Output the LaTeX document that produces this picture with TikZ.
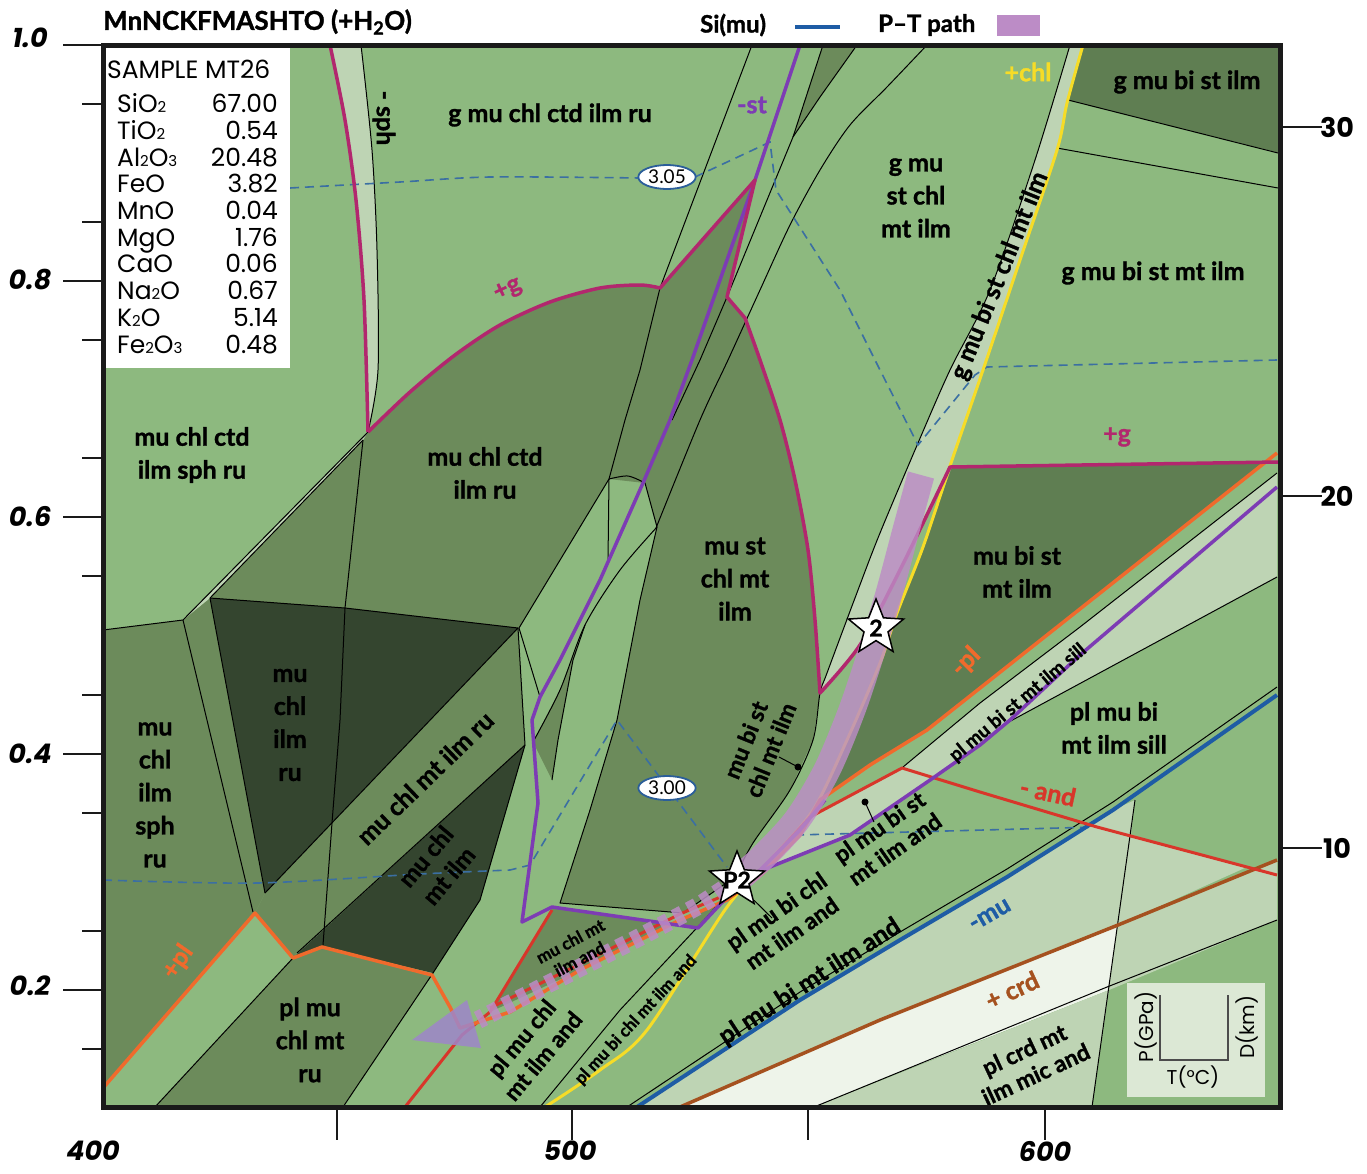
\documentclass[tikz,border=0pt]{standalone}
\usepackage{fontspec}
\setmainfont{Lato}[BoldFeatures={FakeBold=1.3}]
\newfontfamily\popf{Poppins}
\usetikzlibrary{shapes.geometric}
\definecolor{lightG}{HTML}{8DB97F}
\definecolor{midG}{HTML}{6C8B5B}
\definecolor{darkG}{HTML}{5F7E52}
\definecolor{darkestG}{HTML}{34452F}
\definecolor{paleG}{HTML}{BED4B4}
\definecolor{whiteG}{HTML}{EEF4EA}
\definecolor{magC}{HTML}{B2276E}
\definecolor{purC}{HTML}{7D3CB4}
\definecolor{oraC}{HTML}{F06A2C}
\definecolor{redC}{HTML}{D8362A}
\definecolor{yelC}{HTML}{F6DC27}
\definecolor{bluC}{HTML}{1E5CA5}
\definecolor{broC}{HTML}{A5511F}
\definecolor{dashC}{HTML}{3B6FA2}
\definecolor{isoC}{HTML}{2B5E9A}
\definecolor{ptC}{HTML}{BC8CC6}
\definecolor{arrC}{HTML}{9E86CA}
\definecolor{insetC}{HTML}{DCE8D5}
\definecolor{frameC}{HTML}{1A1A1A}
\newcommand\smd[1]{{\fontsize{15}{15}\selectfont #1}}
\tikzset{
 lab/.style={font=\fontsize{25}{33}\selectfont\bfseries, align=center, inner sep=0pt},
 rlab/.style={font=\fontsize{23}{27}\selectfont\bfseries, align=center, inner sep=0pt},
 slab/.style={font=\fontsize{17}{20}\selectfont\bfseries, align=center, inner sep=0pt},
 clab/.style={font=\fontsize{25}{25}\selectfont\bfseries, inner sep=0pt},
 bd/.style={draw=black, line width=1pt, line join=round},
 dsh/.style={draw=dashC, line width=1.6pt, dash pattern=on 9pt off 6pt},
 mag/.style={draw=magC, line width=3.5pt, line join=round},
 pur/.style={draw=purC, line width=3.5pt, line join=round},
 ora/.style={draw=oraC, line width=3.5pt, line join=round},
 rdl/.style={draw=redC, line width=3pt, line join=round},
 yel/.style={draw=yelC, line width=3pt, line join=round},
 blu/.style={draw=bluC, line width=4pt, line join=round},
 bro/.style={draw=broC, line width=3.5pt, line join=round},
 iso/.style={ellipse, draw=isoC, line width=1.8pt, fill=white, inner sep=1.5pt, font=\fontsize{19}{19}\selectfont},
 starn/.style={star, star points=5, star point ratio=2.3, draw=black, line width=1.5pt, fill=white, minimum size=58pt, inner sep=0pt},
 stt/.style={font=\fontsize{23}{23}\selectfont\bfseries, inner sep=0pt},
 axl/.style={font=\popf\fontsize{27}{27}\selectfont\bfseries\itshape, inner sep=0pt},
 axr/.style={font=\popf\fontsize{27}{27}\selectfont\bfseries, inner sep=0pt},
 tk/.style={draw=frameC, line width=2.5pt},
 sb/.style={font=\popf\fontsize{25}{25}\selectfont, inner sep=0pt},
 leg/.style={font=\fontsize{24}{24}\selectfont\bfseries, inner sep=0pt},
}
\begin{document}
\begin{tikzpicture}[x=1pt,y=-1pt]
\useasboundingbox (0,0) rectangle (1367,1173);
\fill[white] (0,0) rectangle (1367,1173);
\fill[lightG] (103,45) rectangle (1280,1107);
% ---------- regions ----------
\fill[midG] plot[smooth] coordinates {(368,432) (410,392) (455,355) (500,325) (550,302) (600,288) (640,285) (660,288)} -- (640,370) -- (625,420) -- (609,479) -- (519,628) -- (345,608) -- (210,598) -- cycle;
\fill[midG] (660,288) -- (755,180) -- (727,297) -- plot[smooth] coordinates {(745,318) (760,360) (780,420) (795,480) (808,550) (815,620) (820,693)} -- (813,740) -- (790,790) -- (753,843) -- (735,877) -- (683,913) -- (560,903) -- (590,810) -- (617,720) -- (640,600) -- (657,527) -- (645,483) -- (609,479) -- (625,420) -- (640,370) -- cycle;
\fill[midG] (585,625) -- (573,660) -- (558,740) -- (552,780) -- (533,742) -- (560,690) -- cycle;
\fill[darkestG] (210,598) -- (345,608) -- (518,628) -- (265,893) -- cycle;
\fill[midG] (518,628) -- (525,745) -- (297,953) -- (293,958) -- (255,913) -- (265,893) -- cycle;
\fill[darkestG] (525,745) -- (480,900) -- (433,973) -- (322,947) -- (295,956) -- cycle;
\fill[midG] (103,630) -- (183,620) -- (210,598) -- (265,893) -- (255,913) -- (103,1088) -- cycle;
\fill[midG] (293,958) -- (322,947) -- (432,975) -- (343,1107) -- (155,1107) -- cycle;
\fill[midG] (552,908) -- (698,928) -- (727,898) -- (680,920) -- (580,970) -- (490,1012) -- cycle;
\fill[midG] (823,45) -- (857,45) -- (820,97) -- (793,137) -- cycle;
\fill[darkG] (1083,45) -- (1280,45) -- (1280,153) -- (1068,100) -- cycle;
\fill[darkG] (952,467) -- (1264,463) -- (927,730) -- (870,765) -- (820,800) -- (847,740) -- (880,663) -- (897,613) -- (923,547) -- cycle;
\fill[paleG] plot[smooth] coordinates {(1070,45) (1035,160) (990,290) (950,370) (918,443) (880,533) (858,590) (827,673) (820,693)} -- plot[smooth] coordinates {(820,693) (860,645) (900,570) (950,467)} -- (983,370) -- (1020,260) -- (1057,150) -- (1067,103) -- (1083,45) -- cycle;
\fill[paleG] (903,767) -- (980,703) -- (1080,627) -- (1277,473) -- (1277,487) -- (1080,655) -- (1010,720) -- (980,745) -- (933,778) -- cycle;
\fill[paleG] (1005,724) -- (1080,655) -- (1277,487) -- (1277,577) -- cycle;
\fill[paleG] (770,867) -- (810,817) -- (902,768) -- (933,778) -- (850,835) -- cycle;
\fill[paleG] (637,1107) -- (800,1000) -- (900,940) -- (1007,877) -- (1113,810) -- (1135,800) -- (1131,835) -- (1247,867) -- (1118,925) -- (880,1020) -- (680,1107) -- cycle;
\fill[whiteG] (680,1107) -- (880,1020) -- (1118,925) -- (1109,990) -- (880,1080) -- (814,1107) -- cycle;
\fill[paleG] (814,1107) -- (1109,990) -- (1092,1107) -- cycle;
\fill[paleG] (1118,925) -- (1277,860) -- (1277,920) -- (1109,990) -- cycle;
\fill[paleG] plot[smooth] coordinates {(330,45) (345,120) (356,200) (364,300) (368,432)} -- plot[smooth] coordinates {(368,432) (378,370) (377,250) (372,150) (361,45)} -- cycle;
\fill[paleG] (368,432) -- (183,620) -- (210,598) -- (363,440) -- cycle;
% ---------- thin boundaries ----------
\draw[bd] (752,45) -- (660,288) -- (640,370) -- (625,420) -- (609,479) -- (519,628) -- (540,697);
\draw[bd] (857,45) -- (820,97) -- (793,137) -- (727,297) -- (700,360) -- (672,420);
\draw[bd] (823,45) -- (793,137);
\draw[bd] plot[smooth] coordinates {(927,45) (887,87) (850,125) (820,170) (790,225) (760,290) (728,360) (700,420) (656,528)};
\draw[bd] plot[smooth] coordinates {(609,479) (628,476) (645,483)};
\draw[bd] (645,483) -- (657,527) -- (640,600) -- (617,720) -- (590,810) -- (560,903) -- (683,913) -- (735,877);
\draw[bd] plot[smooth] coordinates {(657,527) (620,570) (585,625) (560,690) (533,742)};
\draw[bd] (585,625) -- (573,660) -- (558,740) -- (552,780);
\draw[bd] (609,479) -- (608,560);
\draw[bd] (363,440) -- (345,608) -- (340,720) -- (332,823) -- (323,945);
\draw[bd] (210,598) -- (345,608) -- (518,628) -- (265,893);
\draw[bd] (368,432) -- (183,620) -- (253,912);
\draw[bd] (363,440) -- (210,598) -- (265,893);
\draw[bd] (103,630) -- (183,620);
\draw[bd] (525,745) -- (297,953);
\draw[bd] (518,628) -- (525,745) -- (480,900) -- (433,973) -- (343,1107);
\draw[bd] (293,958) -- (155,1107);
\draw[bd] plot[smooth] coordinates {(361,45) (372,150) (377,250) (378,370) (368,432)};
\draw[bd] plot[smooth] coordinates {(1070,45) (1035,160) (990,290) (950,370) (918,443) (880,533) (858,590) (827,673) (820,693) (813,740) (790,790) (753,843) (735,877)};
\draw[bd] (1068,100) -- (1278,153);
\draw[bd] (1057,148) -- (1278,188);
\draw[bd] (903,767) -- (980,703) -- (1080,627) -- (1277,473);
\draw[bd] (1005,724) -- (1277,577);
\draw[bd] (540,1107) -- (620,1010) -- (707,917) -- (735,885);
\draw[bd] (627,1107) -- (800,992) -- (900,932) -- (1007,869) -- (1113,802) -- (1277,687);
\draw[bd] (1135,800) -- (1092,1107);
\draw[bd] (814,1107) -- (880,1080) -- (1107,987) -- (1277,920);
% ---------- isopleths ----------
\draw[dsh] plot[smooth] coordinates {(290,188) (400,182) (490,177) (640,178)} -- (695,177) -- (770,142) -- (776,190) -- (840,290) -- (880,370) -- (918,445) -- (975,375) -- (987,367) -- (1277,360);
\draw[dsh] plot[smooth] coordinates {(103,880) (257,883) (420,874) (510,870)} -- (530,865) -- (617,720) -- (727,867);
\draw[dsh] (795,835) -- (1097,827);
% ---------- coloured reaction lines ----------
\draw[yel] plot[smooth] coordinates {(1083,45) (1067,103) (1057,150) (1020,260) (983,370) (952,460) (923,547) (897,613) (880,663) (847,740) (813,810) (770,860) (727,907) (647,1030) (600,1070) (545,1107)};
\draw[blu] (637,1107) -- (800,1000) -- (900,940) -- (1007,877) -- (1113,810) -- (1277,695);
\draw[bro] (680,1107) -- (880,1020) -- (1118,925) -- (1277,860);
\draw[rdl] (405,1107) -- (462,1035) -- (490,1012) -- (552,910);
\draw[rdl] (490,1008) -- (580,964) -- (680,914) -- (730,893) -- (765,866) -- (810,817) -- (902,768) -- (980,792) -- (1097,827) -- (1277,875);
\draw[ora] (103,1088) -- (255,913) -- (293,958) -- (322,947) -- (432,975) -- (450,1007) -- (460,1028) -- (510,1012) -- (580,970) -- (680,920) -- (727,900) -- (763,873) -- (800,835) -- (820,800) -- (870,765) -- (927,730) -- (1277,453);
\draw[pur] (800,45) -- (755,180) -- (720,280) -- (692,360) -- (670,420) -- (643,483) -- (600,580) -- (560,660) -- (540,697) -- (532,720) -- (538,803) -- (522,922) -- (552,907) -- (698,928) -- (727,897) -- (760,870) -- (800,830) -- (825,800);
\draw[pur] (735,885) -- (770,867) -- (850,835) -- (933,778) -- (980,745) -- (1010,720) -- (1080,655) -- (1277,487);
\draw[mag] plot[smooth] coordinates {(330,45) (345,120) (356,200) (364,300) (368,432)};
\draw[mag] plot[smooth] coordinates {(368,432) (410,392) (455,355) (500,325) (550,302) (600,288) (640,285) (660,288)} -- (755,180) -- (727,297) -- plot[smooth] coordinates {(745,318) (760,360) (780,420) (795,480) (808,550) (815,620) (820,693)} -- plot[smooth] coordinates {(820,693) (860,645) (900,570) (950,467)} -- (1278,462);
% ---------- P-T path ----------
\draw[ptC, line width=27pt, opacity=0.82] plot[smooth] coordinates {(921,475) (906,530) (890,590) (872,650) (852,710) (827,770) (797,820) (763,857) (737,880)};
\draw[ptC, line width=18pt, opacity=0.85, dash pattern=on 9pt off 7pt] (737,880) -- (700,905) -- (640,937) -- (560,978) -- (478,1020);
\fill[arrC, opacity=0.85] (412,1040) -- (467,1000) -- (481,1048) -- cycle;
% ---------- isopleth labels ----------
\node[iso] (i305) at (667,177) {3.05};
\node[iso] (i300) at (667,788) {3.00};
% ---------- stars ----------
\node[starn] (s2) at (876,628) {};
\node[stt] (t2) at (s2) {2};
\node[starn] (sp2) at (737,880) {};
\node[stt] (tp2) at (sp2) {P2};
% ---------- leaders ----------
\coordinate (d1) at (798,767); \coordinate (e1) at (779,757);
\fill (d1) circle (3.5pt); \draw[line width=1pt] (d1) -- (e1);
\coordinate (d2) at (865,802); \coordinate (e2) at (874,822);
\fill (d2) circle (3.5pt); \draw[line width=1pt] (d2) -- (e2);
\coordinate (e3) at (772,918);
\draw[line width=1pt] (sp2.-50) -- (e3);
% ---------- field labels ----------
\node[lab] (n1) at (550,115) {g mu chl ctd ilm ru};
\node[lab, rotate=-90] (n2) at (384,118) {- sph};
\node[clab, text=purC] (n3) at (752,105) {-st};
\node[clab, text=magC, rotate=25] (n4) at (508,290) {+g};
\node[clab, text=yelC] (n5) at (1028,72) {+chl};
\node[lab] (n6) at (1187,82) {g mu bi st ilm};
\node[lab] (n7) at (916,198) {g mu\\st chl\\mt ilm};
\node[lab, rotate=68] (n8) at (1000,276) {g mu bi st chl mt ilm};
\node[lab] (n9) at (1153,273) {g mu bi st mt ilm};
\node[clab, text=magC] (n10) at (1117,437) {+g};
\node[lab] (n11) at (192,455) {mu chl ctd\\ilm sph ru};
\node[lab] (n12) at (485,473) {mu chl ctd\\ilm ru};
\node[lab] (n13) at (735,579) {mu st\\chl mt\\ilm};
\node[lab] (n14) at (1017,572) {mu bi st\\mt ilm};
\node[clab, text=oraC, rotate=45] (n15) at (966,662) {-pl};
\node[slab, font=\fontsize{19}{19}\selectfont\bfseries, rotate=40] (n16) at (1018,703) {pl mu bi st mt ilm sill};
\node[lab] (n17) at (1114,728) {pl mu bi\\mt ilm sill};
\node[lab] (n18) at (155,795) {mu\\chl\\ilm\\sph\\ru};
\node[lab] (n19) at (290,725) {mu\\chl\\ilm\\ru};
\node[lab, rotate=44] (n20) at (425,778) {mu chl mt ilm ru};
\node[rlab, font=\fontsize{24}{30}\selectfont\bfseries, rotate=50] (n21) at (437,866) {mu chl\\mt ilm};
\node[rlab, rotate=68] (n22) at (758,745) {mu bi st\\chl mt ilm};
\node[clab, text=redC, rotate=-12] (n23) at (1048,792) {- and};
\node[rlab, rotate=35] (n24) at (887,838) {pl mu bi st\\mt ilm and};
\node[rlab, rotate=35] (n25) at (784,922) {pl mu bi chl\\mt ilm and};
\node[slab, rotate=28] (n26) at (575,950) {mu chl mt\\ilm and};
\node[clab, text=bluC, rotate=30] (n27) at (990,915) {-mu};
\node[lab, rotate=33] (n28) at (810,982) {pl mu bi mt ilm and};
\node[clab, text=broC, rotate=25] (n29) at (1012,990) {+ crd};
\node[rlab, rotate=25] (n30) at (1030,1062) {pl crd mt\\ilm mic and};
\node[clab, text=oraC, rotate=55] (n31) at (178,962) {+pl};
\node[lab] (n32) at (310,1040) {pl mu\\chl mt\\ru};
\node[rlab, font=\fontsize{23}{28}\selectfont\bfseries, rotate=50] (n33) at (532,1047) {pl mu chl\\mt ilm and};
\node[slab, rotate=47] (n34) at (636,1020) {pl mu bi chl mt ilm and};
% ---------- sample box ----------
\fill[white] (103,48) rectangle (290,368);
\node[sb, anchor=base west] (smp) at (107,78) {SAMPLE MT26};
\foreach \i/\f/\v in {1/SiO\smd{2}/67.00, 2/TiO\smd{2}/0.54, 3/Al\smd{2}O\smd{3}/20.48, 4/FeO/3.82, 5/MnO/0.04, 6/MgO/1.76, 7/CaO/0.06, 8/Na\smd{2}O/0.67, 9/K\smd{2}O/5.14, 10/Fe\smd{2}O\smd{3}/0.48}{
  \node[sb, anchor=base west] (sf\i) at (117,{86+26.7*\i}) {\f};
  \node[sb, anchor=base east] (sv\i) at (278,{86+26.7*\i}) {\v};
}
% ---------- inset ----------
\fill[insetC] (1127,983) rectangle (1265,1097);
\draw[line width=1.5pt, black!70] (1160,995) -- (1160,1060) -- (1228,1060) -- (1228,995);
\node[sb, font=\popf\fontsize{20}{20}\selectfont, rotate=90] (ip) at (1146,1027) {P(GPa)};
\node[sb, font=\popf\fontsize{20}{20}\selectfont, rotate=90] (id) at (1247,1027) {D(km)};
\node[sb, font=\popf\fontsize{20}{20}\selectfont] (it) at (1193,1077) {T(°C)};
% ---------- frame and axes ----------
\draw[line width=5pt, frameC] (103,45) rectangle (1280,1107);
\foreach \yy in {45,281,517,754,990} {\draw[tk] (63,\yy) -- (103,\yy);}
\foreach \yy in {104,222,340,458,576,695,813,931,1049} {\draw[tk] (82,\yy) -- (103,\yy);}
\foreach \xx in {337,572,808,1045} {\draw[tk] (\xx,1107) -- (\xx,1140);}
\foreach \yy in {127,496,848} {\draw[tk] (1280,\yy) -- (1322,\yy);}
\node[axl] (y10) at (30,38) {1.0};
\node[axl] (y08) at (30,280) {0.8};
\node[axl] (y06) at (30,517) {0.6};
\node[axl] (y04) at (30,754) {0.4};
\node[axl] (y02) at (30,986) {0.2};
\node[axl] (x400) at (93,1151) {400};
\node[axl] (x500) at (570,1151) {500};
\node[axl] (x600) at (1045,1151) {600};
\node[axr] (d30) at (1337,127) {30};
\node[axr] (d20) at (1337,496) {20};
\node[axr] (d10) at (1337,848) {10};
% ---------- title and legend ----------
\node[leg, anchor=west, font=\fontsize{26}{26}\selectfont\bfseries] (title) at (103,22) {MnNCKFMASHTO (+H\textsubscript{2}O)};
\node[leg, anchor=west] (lsi) at (700,25) {Si(mu)};
\coordinate (lb1) at (795,27); \coordinate (lb2) at (840,27);
\draw[blu] (lb1) -- (lb2);
\node[leg, anchor=west] (lpt) at (878,25) {P–T path};
\fill[ptC] (997,15) rectangle (1040,36);
\end{tikzpicture}
\end{document}
